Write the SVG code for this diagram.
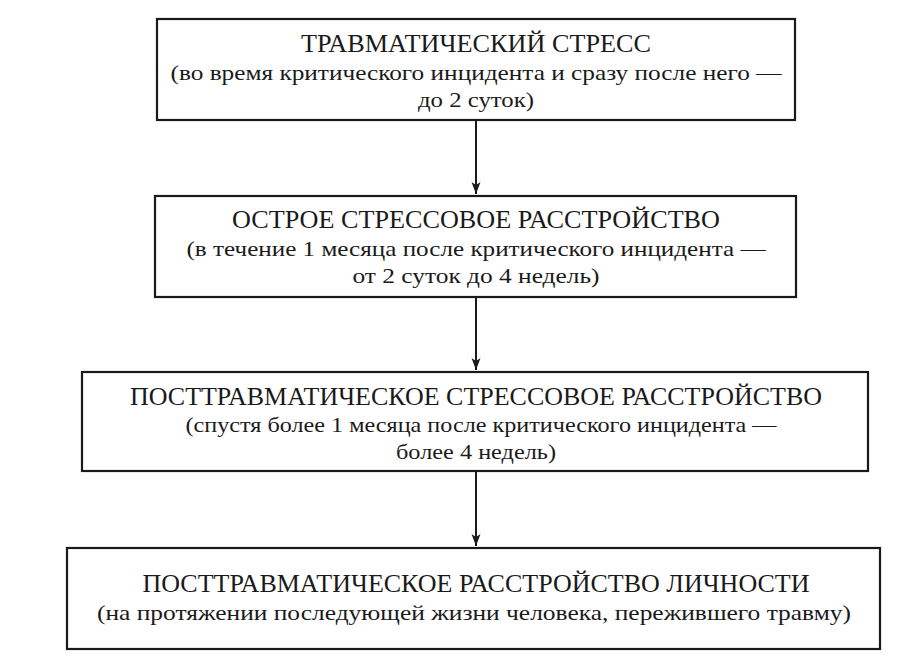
<svg xmlns="http://www.w3.org/2000/svg" width="901" height="664" viewBox="0 0 901 664">
<style>
.b{fill:#fff;stroke:#1a1a1a;stroke-width:2.2}
text{font-family:"Liberation Serif","Times New Roman",serif;fill:#1a1a1a;text-anchor:middle}
.t{font-size:25px}
.s{font-size:22px}
.c{stroke:#1a1a1a;stroke-width:2;fill:none}
</style>
<defs>
<marker id="m" markerWidth="12" markerHeight="16" refX="16" refY="6" orient="auto" markerUnits="userSpaceOnUse" viewBox="0 0 16 12"><path d="M0,0 L16,6 L0,12 L4,6 Z" fill="#1a1a1a"/></marker></defs>
<rect width="901" height="664" fill="#fff"/>
<g id="n1"><rect class="b" x="157" y="19" width="638" height="101"/>
<text class="t" x="476" y="52" textLength="350" lengthAdjust="spacingAndGlyphs">ТРАВМАТИЧЕСКИЙ СТРЕСС</text>
<text class="s" x="476" y="80" textLength="611" lengthAdjust="spacingAndGlyphs">(во время критического инцидента и сразу после него —</text>
<text class="s" x="476" y="107" textLength="116" lengthAdjust="spacingAndGlyphs">до 2 суток)</text></g>
<g id="n2"><rect class="b" x="155" y="196" width="641" height="101"/>
<text class="t" x="476" y="228" textLength="488" lengthAdjust="spacingAndGlyphs">ОСТРОЕ СТРЕССОВОЕ РАССТРОЙСТВО</text>
<text class="s" x="476" y="256" textLength="579" lengthAdjust="spacingAndGlyphs">(в течение 1 месяца после критического инцидента —</text>
<text class="s" x="476" y="283" textLength="247" lengthAdjust="spacingAndGlyphs">от 2 суток до 4 недель)</text></g>
<g id="n3"><rect class="b" x="82" y="372" width="786" height="99"/>
<text class="t" x="476" y="405" textLength="692" lengthAdjust="spacingAndGlyphs">ПОСТТРАВМАТИЧЕСКОЕ СТРЕССОВОЕ РАССТРОЙСТВО</text>
<text class="s" x="481" y="432" textLength="591" lengthAdjust="spacingAndGlyphs">(спустя более 1 месяца после критического инцидента —</text>
<text class="s" x="476" y="459" textLength="160" lengthAdjust="spacingAndGlyphs">более 4 недель)</text></g>
<g id="n4"><rect class="b" x="67" y="548" width="813" height="101"/>
<text class="t" x="476" y="592" textLength="667" lengthAdjust="spacingAndGlyphs">ПОСТТРАВМАТИЧЕСКОЕ РАССТРОЙСТВО ЛИЧНОСТИ</text>
<text class="s" x="474" y="620" textLength="754" lengthAdjust="spacingAndGlyphs">(на протяжении последующей жизни человека, пережившего травму)</text></g>
<g id="connectors">
<line class="c" x1="476" y1="121" x2="476" y2="194" marker-end="url(#m)"/>
<line class="c" x1="476" y1="298" x2="476" y2="370" marker-end="url(#m)"/>
<line class="c" x1="476" y1="472" x2="476" y2="546" marker-end="url(#m)"/>
</g>
</svg>
